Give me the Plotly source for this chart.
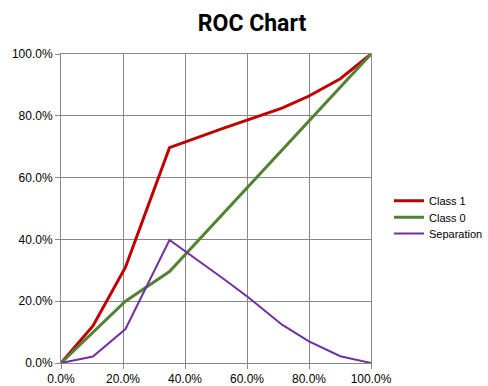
import plotly.graph_objects as go

fpr = [0, 10.3, 20.8, 35.0, 52.5, 60.5, 71.3, 80.0, 90.1, 100]
class1 = [0, 12.0, 31.0, 69.7, 76.0, 78.7, 82.5, 86.4, 92.0, 100]
class0 = [0, 10.0, 20.0, 29.6, 48.6, 57.2, 69.0, 78.5, 89.3, 100]
separation = [0, 2.1, 11.0, 39.8, 27.2, 21.2, 12.4, 7.0, 2.2, 0]
ticks = [0, 20, 40, 60, 80, 100]
tick_labels = ["0.0%", "20.0%", "40.0%", "60.0%", "80.0%", "100.0%"]

FONT = "Liberation Sans, Arial, sans-serif"
TITLE_FONT = "Roboto, Liberation Sans, sans-serif"

fig = go.Figure()
fig.add_trace(go.Scatter(x=fpr, y=class1, mode="lines", name="Class 1", legend="legend",
                         line=dict(color="#C00000", width=3)))
fig.add_trace(go.Scatter(x=fpr, y=class0, mode="lines", name="Class 0", legend="legend2",
                         line=dict(color="#548235", width=3)))
fig.add_trace(go.Scatter(x=fpr, y=separation, mode="lines", name="Separation", legend="legend3",
                         line=dict(color="#7030A0", width=2)))

axis_common = dict(range=[0, 100], tickmode="array", tickvals=ticks, ticktext=tick_labels,
                   showgrid=True, gridcolor="#888888", gridwidth=1,
                   showline=True, linecolor="#888888", linewidth=1,
                   zeroline=False, ticks="outside", ticklen=5, tickcolor="#888888",
                   tickfont=dict(family=FONT, size=12, color="#000000"), mirror=True,
                   automargin=False)


def leg(ypix):
    # legend entry placed in container pixel terms (488x386 canvas)
    return dict(xref="container", yref="container",
                x=389 / 488, xanchor="left", y=1 - ypix / 386, yanchor="middle",
                font=dict(family=FONT, size=11, color="#000000"),
                bgcolor="rgba(0,0,0,0)", itemwidth=30, borderwidth=0)


fig.update_layout(
    width=488, height=386,
    paper_bgcolor="white", plot_bgcolor="white",
    margin=dict(l=61, r=117, t=54, b=23),
    title=dict(text="<b>ROC Chart</b>", x=252 / 488, xanchor="center", y=1 - 22.5 / 386, yanchor="middle",
               font=dict(family=TITLE_FONT, size=23, color="#000000")),
    xaxis=axis_common,
    yaxis=axis_common,
    legend=leg(200.7),
    legend2=leg(217.3),
    legend3=leg(233.5),
    showlegend=True,
)

fig.write_html(
    "out.html",
    config={"responsive": False, "displayModeBar": False},
    post_script="document.body.style.margin='0';"
                "Plotly.relayout(document.getElementById('{plot_id}'), {width: 488, height: 386});",
)
